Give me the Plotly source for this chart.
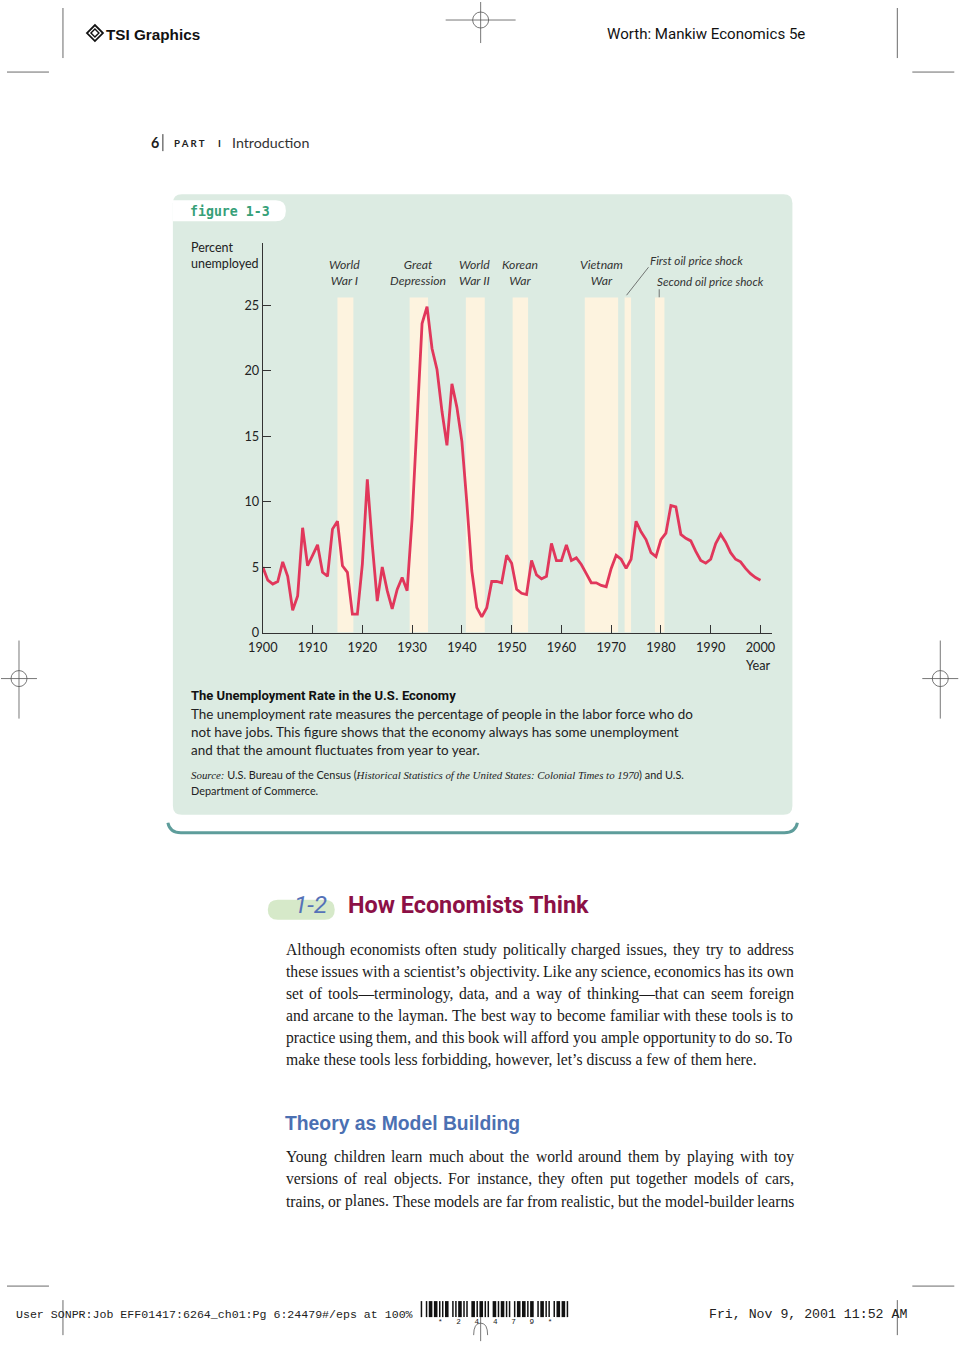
import plotly.graph_objects as go

W, H = 960, 1357

# ---------------- data ----------------
years = list(range(1900, 2001))
unemployment = [5.0, 4.0, 3.7, 3.9, 5.4, 4.3, 1.7, 2.8, 8.0, 5.1,
                5.9, 6.7, 4.6, 4.3, 7.9, 8.5, 5.1, 4.6, 1.4, 1.4,
                5.2, 11.7, 6.7, 2.4, 5.0, 3.2, 1.8, 3.3, 4.2, 3.2,
                8.7, 15.9, 23.6, 24.9, 21.7, 20.1, 16.9, 14.3, 19.0, 17.2,
                14.6, 9.9, 4.7, 1.9, 1.2, 1.9, 3.9, 3.9, 3.8, 5.9,
                5.3, 3.3, 3.0, 2.9, 5.5, 4.4, 4.1, 4.3, 6.8, 5.5,
                5.5, 6.7, 5.5, 5.7, 5.2, 4.5, 3.8, 3.8, 3.6, 3.5,
                4.9, 5.9, 5.6, 4.9, 5.6, 8.5, 7.7, 7.1, 6.1, 5.8,
                7.1, 7.6, 9.7, 9.6, 7.5, 7.2, 7.0, 6.2, 5.5, 5.3,
                5.6, 6.8, 7.5, 6.9, 6.1, 5.6, 5.4, 4.9, 4.5, 4.2,
                4.0]

band_labels = ["World<br>War I", "Great<br>Depression", "World<br>War II",
               "Korean<br>War", "Vietnam<br>War",
               "First oil price shock", "Second oil price shock"]
band_start = [1915.0, 1929.5, 1940.8, 1950.2, 1964.7, 1972.7, 1978.8]
band_end = [1918.2, 1933.2, 1944.6, 1953.3, 1971.4, 1974.0, 1980.7]
band_top = 25.6

x_ticks = list(range(1900, 2001, 10))
y_ticks = [0, 5, 10, 15, 20, 25]

caption_title = "The Unemployment Rate in the U.S. Economy"
caption_lines = [
    "The unemployment rate measures the percentage of people in the labor force who do",
    "not have jobs. This figure shows that the economy always has some unemployment",
    "and that the amount fluctuates from year to year.",
]
para1 = [
    "Although economists often study politically charged issues, they try to address",
    "these issues with a scientist’s objectivity. Like any science, economics has its own",
    "set of tools—terminology, data, and a way of thinking—that can seem foreign",
    "and arcane to the layman. The best way to become familiar with these tools is to",
    "practice using them, and this book will afford you ample opportunity to do so. To",
    "make these tools less forbidding, however, let’s discuss a few of them here.",
]
para2 = [
    "Young children learn much about the world around them by playing with toy",
    "versions of real objects. For instance, they often put together models of cars,",
    "trains, or planes. These models are far from realistic, but the model-builder learns",
]

# ---------------- helpers ----------------
# the photographed page comes out slightly shrunk / shifted; compensate
SX, OX, SY = 0.982, 14.0, 0.994
FS = 1 / SX


def X(px):
    return ((px - OX) / SX) / W


def Y(py):
    return 1 - (py / SY) / H


shapes = []
annotations = []

SANS = "Lato, 'Open Sans', sans-serif"
NARROW = "Roboto, 'Liberation Sans', sans-serif"
SERIF = "'Liberation Serif', 'Times New Roman', serif"
MONO = "'Liberation Mono', 'DejaVu Sans Mono', monospace"
ARIAL = "'Liberation Sans', Arial, sans-serif"


def rect(x0, y0, x1, y1, fill, layer="below"):
    shapes.append(dict(type="rect", xref="paper", yref="paper",
                       x0=X(x0), x1=X(x1), y0=Y(y1), y1=Y(y0),
                       fillcolor=fill, line=dict(width=0), layer=layer))


def line(x0, y0, x1, y1, color="#333", w=1, layer="above"):
    shapes.append(dict(type="line", xref="paper", yref="paper",
                       x0=X(x0), y0=Y(y0), x1=X(x1), y1=Y(y1),
                       line=dict(color=color, width=w), layer=layer))


def circle(cx, cy, r, color="#333", w=1):
    shapes.append(dict(type="circle", xref="paper", yref="paper",
                       x0=X(cx - r), x1=X(cx + r), y0=Y(cy + r), y1=Y(cy - r),
                       line=dict(color=color, width=w), layer="above"))


def P(x, y):
    return f"{X(x):.5f},{Y(y):.5f}"


def rrect_path(x0, y0, x1, y1, r, left_round=True):
    rl = r if left_round else 0
    s = (f"M{P(x0 + rl, y0)} L{P(x1 - r, y0)} Q{P(x1, y0)} {P(x1, y0 + r)} "
         f"L{P(x1, y1 - r)} Q{P(x1, y1)} {P(x1 - r, y1)} L{P(x0 + rl, y1)} ")
    if left_round:
        s += (f"Q{P(x0, y1)} {P(x0, y1 - r)} L{P(x0, y0 + r)} Q{P(x0, y0)} {P(x0 + r, y0)} Z")
    else:
        s += f"L{P(x0, y0)} Z"
    return s


def path(d, fill=None, color=None, w=0, layer="below"):
    shapes.append(dict(type="path", xref="paper", yref="paper", path=d,
                       fillcolor=fill if fill else "rgba(0,0,0,0)",
                       line=dict(color=color if color else "rgba(0,0,0,0)", width=w),
                       layer=layer))


def text(s, x, y, size, color="#222", family=SANS, xanchor="left",
         yanchor="middle", weight="normal", style="normal", align=None):
    annotations.append(dict(
        text=s, x=max(X(x), 0.0), y=Y(y), xref="paper", yref="paper", showarrow=False,
        xanchor=xanchor, yanchor=yanchor, borderpad=0,
        align=align if align else ("center" if xanchor == "center" else xanchor),
        font=dict(size=size * FS, color=color, family=family, weight=weight, style=style)))


# Times / Liberation Serif advance widths (per 1000 em)
TIMES = {
    ' ': 250, 'a': 444, 'b': 500, 'c': 444, 'd': 500, 'e': 444, 'f': 333, 'g': 500,
    'h': 500, 'i': 278, 'j': 278, 'k': 500, 'l': 278, 'm': 778, 'n': 500, 'o': 500,
    'p': 500, 'q': 500, 'r': 333, 's': 389, 't': 278, 'u': 500, 'v': 500, 'w': 722,
    'x': 500, 'y': 500, 'z': 444, 'A': 722, 'B': 667, 'C': 667, 'D': 722, 'E': 611,
    'F': 556, 'G': 722, 'H': 722, 'I': 333, 'J': 389, 'K': 722, 'L': 611, 'M': 889,
    'N': 722, 'O': 722, 'P': 556, 'Q': 722, 'R': 667, 'S': 556, 'T': 611, 'U': 722,
    'V': 722, 'W': 944, 'X': 722, 'Y': 722, 'Z': 611, ',': 250, '.': 250, '’': 333,
    '—': 1000, '-': 333, "'": 180,
}


def units(s):
    return sum(TIMES.get(c, 500) for c in s) / 1000.0


BODY_L, BODY_R = 284, 792
body_size = 464 / units(para1[-1])


def justified(lines, y_first, step, last_left):
    for i, ln in enumerate(lines):
        y = y_first + i * step
        if last_left and i == len(lines) - 1:
            text(ln, BODY_L, y, body_size, color="#1a1a1a", family=SERIF)
            continue
        words = ln.split(" ")
        widths = [units(wd) * body_size for wd in words]
        gap = (BODY_R - BODY_L - sum(widths)) / (len(words) - 1)
        x = BODY_L
        for wd, wdt in zip(words, widths):
            text(wd, x, y, body_size, color="#1a1a1a", family=SERIF)
            x += wdt + gap


# ---------------- page furniture ----------------
# crop marks
line(62, 8, 62, 58, "#444", 0.8)
line(6, 72, 48, 72, "#444", 0.8)
line(897, 8, 897, 58, "#444", 0.8)
line(912, 72, 954, 72, "#444", 0.8)
line(6, 1285, 48, 1285, "#444", 0.8)
line(912, 1285, 954, 1285, "#444", 0.8)
line(62, 1299, 62, 1334, "#444", 0.8)
line(897, 1299, 897, 1334, "#444", 0.8)
# registration marks
line(445, 20, 515, 20, "#555", 0.8)
line(480, 2, 480, 43, "#555", 0.8)
circle(480, 20, 8, "#555", 0.8)
line(0, 678, 36, 678, "#555", 0.8)
line(18, 640, 18, 718, "#555", 0.8)
circle(18, 678, 8, "#555", 0.8)
line(922, 678, 958, 678, "#555", 0.8)
line(940, 640, 940, 718, "#555", 0.8)
circle(940, 678, 8, "#555", 0.8)
line(480, 1312, 480, 1340, "#555", 0.8)
path(f"M{P(473, 1334)} Q{P(473, 1322)} {P(480, 1322)} Q{P(487, 1322)} {P(487, 1334)}",
     color="#555", w=0.8, layer="above")

# TSI logo + header texts
path(f"M{P(86, 33)} L{P(94, 25)} L{P(102, 33)} L{P(94, 41)} Z", color="#111", w=1.8, layer="above")
path(f"M{P(90, 33)} L{P(94, 29)} L{P(98, 33)} L{P(94, 37)} Z", color="#111", w=1.4, layer="above")
text("TSI Graphics", 104, 34, 15, color="#111", family=ARIAL, weight="bold")
text("Worth: Mankiw Economics 5e", 605, 34, 14.8, color="#111", family=NARROW)

# running head
text("6", 149, 142, 14, color="#222", family=SANS, weight="bold")
line(162, 134, 162, 151, "#333", 1)
text("P A R T", 172, 143, 9.5, color="#222", family=SANS, weight="bold")
text("I", 216, 143, 9.5, color="#222", family=SANS, weight="bold")
text("Introduction", 230, 142, 14, color="#333", family=SANS)

# figure panel
path(rrect_path(172, 194, 792, 814, 9), fill="#dcebe2")
path(rrect_path(172, 200, 285, 221, 10, left_round=False), fill="#ffffff")
text("figure 1-3", 188, 211, 13, color="#36a078", family="'DejaVu Sans Mono', monospace", weight="bold")
path(f"M{P(167, 822)} Q{P(169, 832)} {P(180, 832)} L{P(784, 832)} Q{P(795, 832)} {P(797, 822)}",
     color="#5e9d9b", w=3, layer="above")

# axis titles & band labels
text("Percent<br>unemployed", 189, 255, 12.3, color="#222", family=SANS, align="left")
text("Year", 772, 664, 12.5, color="#222", family=SANS, xanchor="right")
label_pos = [(344, 272), (417, 272), (474, 272), (519, 272), (601, 272)]
for lab, (lx, ly) in zip(band_labels[:5], label_pos):
    text(lab, lx, ly, 12, color="#333", family=SANS, xanchor="center", style="italic")
text(band_labels[5], 648, 260, 11.5, color="#333", family=SANS, style="italic")
text(band_labels[6], 655, 281, 11.5, color="#333", family=SANS, style="italic")
line(626, 295, 648, 267, "#555", 0.8)
line(658.7, 289, 658.7, 297, "#555", 0.8)

# caption
text(caption_title, 189, 695, 12.8, color="#111", family=NARROW, weight="bold")
for i, ln in enumerate(caption_lines):
    text(ln, 189, 713 + 18 * i, 13.2, color="#222", family=SANS)
src1 = ("<span style=\"font-family:'Liberation Serif',serif\"><i>Source:</i></span> "
        "U.S. Bureau of the Census (<span style=\"font-family:'Liberation Serif',serif\">"
        "<i>Historical Statistics of the United States: Colonial Times to 1970</i></span>) and U.S.")
text(src1, 189, 774, 10.7, color="#222", family=SANS)
text("Department of Commerce.", 189, 790, 10.7, color="#222", family=SANS)

# section heading
path(rrect_path(267, 899, 334, 919, 10), fill="#d6e9c9")
text("1-2", 292, 904, 24, color="#5572b8", family="Roboto, sans-serif", style="italic")
text("How Economists Think", 346, 904, 23, color="#8c1046", family=NARROW, weight="bold")

justified(para1, 949, 22, last_left=True)
text("Theory as Model Building", 283, 1122, 19, color="#4b70b2", family=ARIAL, weight="bold")
justified(para2, 1156, 22, last_left=False)

# footer
text("User SONPR:Job EFF01417:6264_ch01:Pg 6:24479#/eps at 100%", 4, 1313, 11.4,
     color="#222", family=MONO)
text("Fri, Nov 9, 2001 11:52 AM", 708, 1313, 13, color="#222", family=MONO)
code39 = {'*': 'nwnnwnwnn', '2': 'nnwwnnnnw', '4': 'nnnwwnnnw', '7': 'nnnwnnwnw', '9': 'nnwwnnwnn'}
bx = 420.0
for ch in "*24479*":
    for k, el in enumerate(code39[ch]):
        wd = 3.6 if el == 'w' else 1.5
        if k % 2 == 0:
            rect(bx, 1300, bx + wd, 1316, "#111", layer="above")
        bx += wd
    bx += 1.5
text("*&nbsp;&nbsp;&nbsp;2&nbsp;&nbsp;&nbsp;4&nbsp;&nbsp;&nbsp;4&nbsp;&nbsp;&nbsp;7&nbsp;&nbsp;&nbsp;9&nbsp;&nbsp;&nbsp;*",
     (420 + bx) / 2, 1321, 7.5, color="#222", family=MONO, xanchor="center")

# war / shock bands (data coordinates)
for s, e in zip(band_start, band_end):
    shapes.append(dict(type="rect", xref="x", yref="y", x0=s, x1=e, y0=0, y1=band_top,
                       fillcolor="#fdf3df", line=dict(width=0), layer="below"))

# ---------------- figure ----------------
fig = go.Figure()
fig.add_trace(go.Scatter(x=years, y=unemployment, mode="lines",
                         line=dict(color="#e1375b", width=2.8),
                         hoverinfo="skip", showlegend=False))

axis_font = dict(family=SANS, size=12.5 * FS, color="#222")
fig.update_layout(
    width=W, height=H, margin=dict(l=0, r=0, t=0, b=0),
    paper_bgcolor="white", plot_bgcolor="white", showlegend=False,
    shapes=shapes, annotations=annotations,
    xaxis=dict(domain=[X(262), X(772)], range=[1900, 2002.4], tickvals=x_ticks,
               ticks="inside", ticklen=8, tickwidth=1, tickcolor="#333",
               showline=True, linecolor="#333", linewidth=1, showgrid=False,
               zeroline=False, tickfont=axis_font, fixedrange=True,
               ticklabelstandoff=3),
    yaxis=dict(domain=[Y(632), Y(243)], range=[0, 29.74], tickvals=y_ticks,
               ticks="inside", ticklen=8, tickwidth=1, tickcolor="#333",
               showline=True, linecolor="#333", linewidth=1, showgrid=False,
               zeroline=False, tickfont=axis_font, fixedrange=True),
)

fig.write_html("out.html",
               config={"displayModeBar": False},
               post_script="document.body.style.margin='0';"
                           "document.body.style.padding='0';"
                           "document.body.style.overflow='hidden';")
